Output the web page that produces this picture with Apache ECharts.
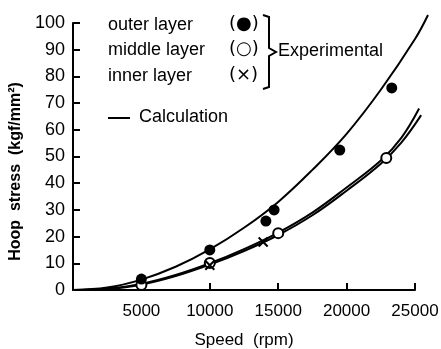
<!DOCTYPE html>
<html>
<head>
<meta charset="utf-8">
<script src="https://cdn.jsdelivr.net/npm/echarts@6/dist/echarts.min.js"></script>
<style>
  html, body { margin: 0; padding: 0; background: #fff; }
  #main { width: 441px; height: 349px; }
</style>
</head>
<body>
<div id="main"></div>
<script>
// Datos
const xTicks = [0, 5000, 10000, 15000, 20000, 25000];
const yTicks = [0, 10, 20, 30, 40, 50, 60, 70, 80, 90, 100];

// Puntos experimentales [rpm, kgf/mm2]
const outerPts = [[5000, 4.1], [10000, 15], [14100, 25.8], [14700, 30], [19500, 52.4], [23300, 75.7]];
const middlePts = [[5000, 1.9], [10000, 10.1], [15000, 21.3], [22900, 49.4]];
const innerPts = [[10000, 9.3], [13900, 18]];

// Curvas de cálculo (leídas punto a punto)
const outerCalc = [[0, 0], [2500, 0.9], [5000, 3.9], [7500, 8.7], [10000, 15.2], [12500, 23.3], [15000, 33],
  [17500, 45], [20000, 58.5], [22500, 75], [25000, 94], [25950, 103]];
const middleCalc = [[0, 0], [2500, 0.5], [5000, 2.3], [7500, 5.6], [10000, 10], [12500, 15.3], [15000, 21.5],
  [17500, 29], [20000, 38.4], [22500, 48.5], [24000, 57], [25300, 68]];
const innerCalc = [[0, 0], [2500, 0.4], [5000, 2], [7500, 5.2], [10000, 9.5], [12500, 14.6], [15000, 20.6],
  [17500, 28], [20000, 37.2], [22500, 47.3], [24000, 55.2], [25450, 65.5]];

const font = 'Liberation Sans, Arial, sans-serif';
const chart = echarts.init(document.getElementById('main'));

// rejilla principal (ejes visibles) y una rejilla auxiliar con la misma escala
// pero más amplia, para que las curvas salgan del área como en la figura
const gLeft = 73, gWidth = 342, gBottom = 59, gHeight = 267;
const xMax = 25000, yMax = 100, xMax2 = 26000, yMax2 = 105;

const calcLine = (data) => ({
  type: 'line',
  xAxisIndex: 1,
  yAxisIndex: 1,
  data: data,
  smooth: 0.4,
  showSymbol: false,
  clip: false,
  silent: true,
  lineStyle: { color: '#000', width: 2 },
  z: 2
});

const hiddenAxis = { type: 'value', min: 0, show: false, splitLine: { show: false } };

const option = {
  animation: false,
  backgroundColor: '#fff',
  grid: [
    { left: gLeft, width: gWidth, bottom: gBottom, height: gHeight, outerBoundsMode: 'none' },
    {
      left: gLeft, width: gWidth * xMax2 / xMax, bottom: gBottom, height: gHeight * yMax2 / yMax,
      outerBoundsMode: 'none'
    }
  ],
  xAxis: [{
    type: 'value',
    gridIndex: 0,
    min: 0,
    max: xMax,
    interval: 5000,
    name: 'Speed  (rpm)',
    nameLocation: 'middle',
    nameGap: 42,
    nameTextStyle: { color: '#000', fontFamily: font, fontSize: 17 },
    axisLine: { lineStyle: { color: '#000', width: 2 } },
    axisTick: { inside: true, length: 7, lineStyle: { color: '#000', width: 2 } },
    axisLabel: {
      color: '#000', fontFamily: font, fontSize: 17, margin: 13,
      formatter: (v) => (v === 0 ? '' : String(v))
    },
    splitLine: { show: false }
  }, Object.assign({ gridIndex: 1, max: xMax2 }, hiddenAxis)],
  yAxis: [{
    type: 'value',
    gridIndex: 0,
    min: 0,
    max: yMax,
    interval: 10,
    name: 'Hoop  stress  (kgf/mm²)',
    nameLocation: 'middle',
    nameGap: 49,
    nameTextStyle: {
      color: '#000', fontFamily: font, fontSize: 16, fontWeight: 'bold',
      padding: [0, 30, 0, 0]
    },
    axisLine: { show: true, lineStyle: { color: '#000', width: 2 } },
    axisTick: { show: true, inside: true, length: 7, lineStyle: { color: '#000', width: 2 } },
    axisLabel: { color: '#000', fontFamily: font, fontSize: 18, margin: 8 },
    splitLine: { show: false }
  }, Object.assign({ gridIndex: 1, max: yMax2 }, hiddenAxis)],
  series: [
    calcLine(outerCalc),
    calcLine(middleCalc),
    calcLine(innerCalc),
    {
      type: 'scatter',
      data: outerPts,
      symbol: 'circle',
      symbolSize: 11,
      itemStyle: { color: '#000', opacity: 1 },
      z: 4
    },
    {
      type: 'scatter',
      data: middlePts,
      symbol: 'circle',
      symbolSize: 10,
      itemStyle: { color: '#fff', borderColor: '#000', borderWidth: 2, opacity: 1 },
      z: 3
    },
    {
      type: 'scatter',
      data: innerPts,
      symbol: 'path://M0,0L10,10M10,0L0,10',
      symbolSize: 9,
      itemStyle: { color: 'none', borderColor: '#000', borderWidth: 2, opacity: 1 },
      z: 3
    }
  ],
  graphic: [
    { type: 'text', left: 108, top: 16, style: { text: 'outer layer', font: '18px ' + font, fill: '#000' } },
    { type: 'text', left: 229, top: 15, style: { text: '(●)', font: '18px DejaVu Sans', fill: '#000' } },
    { type: 'text', left: 108, top: 41, style: { text: 'middle layer', font: '18px ' + font, fill: '#000' } },
    { type: 'text', left: 229, top: 40, style: { text: '(○)', font: '18px DejaVu Sans', fill: '#000' } },
    { type: 'text', left: 108, top: 67, style: { text: 'inner layer', font: '18px ' + font, fill: '#000' } },
    { type: 'text', left: 229, top: 66, style: { text: '(×)', font: '18px DejaVu Sans', fill: '#000' } },
    {
      type: 'polyline',
      shape: { points: [[263, 15], [269, 17], [269, 48], [276, 52], [269, 56], [269, 87], [263, 89]] },
      style: { stroke: '#000', lineWidth: 2, fill: null }
    },
    { type: 'text', left: 278, top: 42, style: { text: 'Experimental', font: '18px ' + font, fill: '#000' } },
    { type: 'line', shape: { x1: 108, y1: 118, x2: 130, y2: 118 }, style: { stroke: '#000', lineWidth: 2 } },
    { type: 'text', left: 139, top: 108, style: { text: 'Calculation', font: '18px ' + font, fill: '#000' } }
  ]
};

chart.setOption(option);
</script>
</body>
</html>
